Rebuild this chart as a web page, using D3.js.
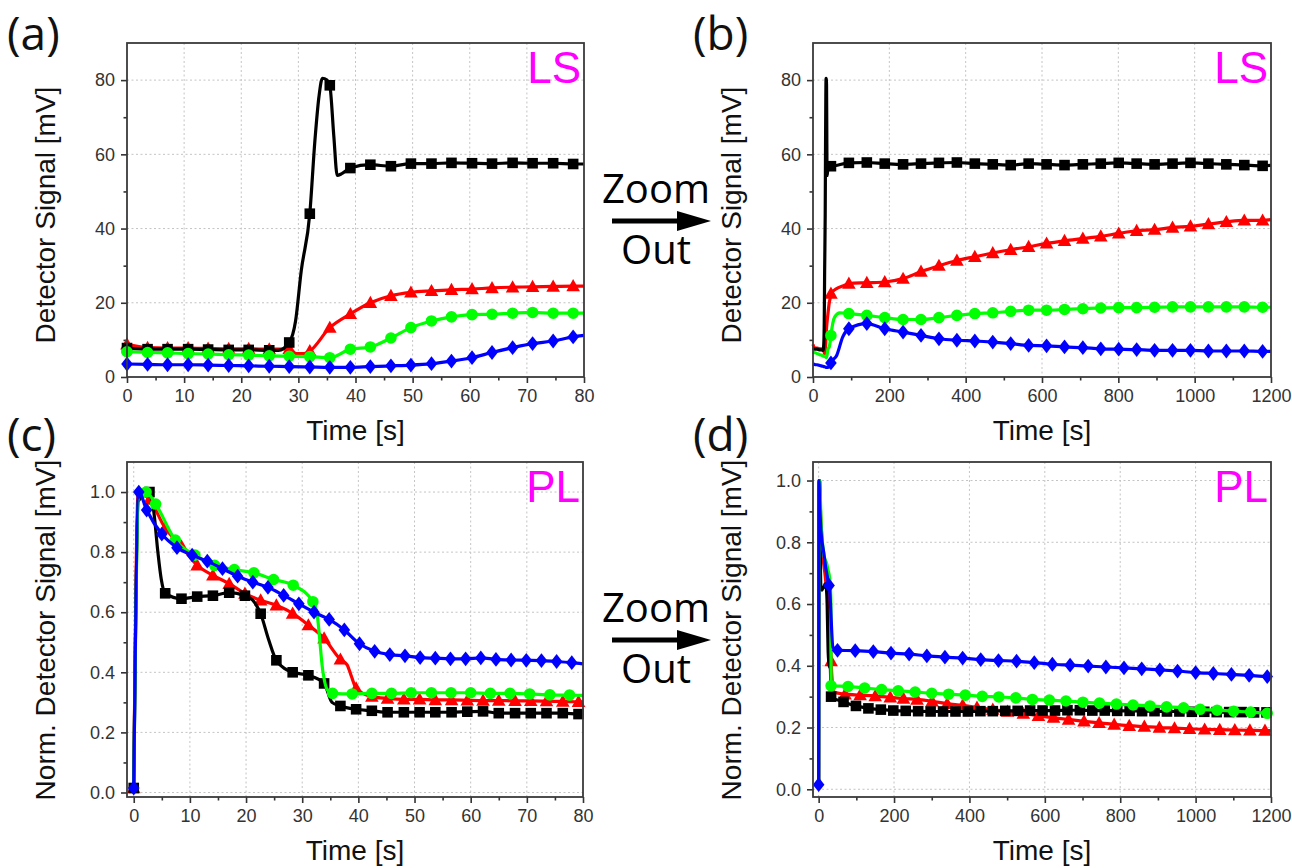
<!DOCTYPE html>
<html>
<head>
<meta charset="utf-8">
<script src="https://cdn.jsdelivr.net/npm/d3@7"></script>
<style>
body { margin: 0; background: #fff; }
svg { display: block; }
</style>
</head>
<body>
<svg id="chart" width="1292" height="868"></svg>
<script>
// ---- tick labels ----
const timeTicksShort = [0, 10, 20, 30, 40, 50, 60, 70, 80]
const timeTicksLong = [0, 200, 400, 600, 800, 1000, 1200]
const lsTicks = [0, 20, 40, 60, 80]
const plTicks = [0, 0.2, 0.4, 0.6, 0.8, 1.0]

// ---- (a) LS, 0-80 s : marker times shared by all four series ----
const lsShortTime = [0, 3.6, 7.1, 10.7, 14.2, 17.8, 21.3, 24.9, 28.4, 32.0, 35.5, 39.1, 42.6, 46.2, 49.7, 53.3, 56.8, 60.4, 63.9, 67.5, 71.0, 74.6, 78.1]
const lsShortBlack = [7.8, 7.5, 7.5, 7.5, 7.4, 7.3, 7.3, 7.2, 9.3, 44, 78.6, 56.3, 57.2, 56.8, 57.5, 57.5, 57.7, 57.6, 57.5, 57.7, 57.6, 57.6, 57.4]
const lsShortRed = [8.8, 7.9, 7.8, 7.8, 7.7, 7.6, 7.6, 7.5, 7.6, 7.0, 13.3, 17, 20, 21.9, 22.8, 23.2, 23.5, 23.7, 24.0, 24.2, 24.3, 24.4, 24.5]
const lsShortGreen = [6.8, 6.6, 6.5, 6.3, 6.2, 6.0, 5.9, 5.7, 5.6, 5.5, 5.2, 7.5, 8.1, 10.5, 13.3, 15.1, 16.2, 16.8, 16.9, 17.2, 17.4, 17.2, 17.2]
const lsShortBlue = [3.5, 3.4, 3.3, 3.3, 3.2, 3.1, 3.0, 2.9, 2.8, 2.7, 2.6, 2.6, 2.8, 3.0, 3.2, 3.6, 4.3, 5.2, 6.6, 7.9, 9.0, 9.7, 10.8]
// line vertices without a marker
const lsShortBlackLine = [[26.5, 7.2], [29.5, 15], [30.5, 28.6], [32.9, 63.8], [33.6, 75.5], [34.2, 80.5], [35.0, 80], [36.2, 65], [36.8, 54.3], [37.6, 54.8], [80, 57.4]]
const lsShortRedLine = [[29.6, 6.3], [31.0, 6.3], [80, 24.5]]
const lsShortGreenLine = [[80, 17.2]]
const lsShortBlueLine = [[80, 11.2]]

// ---- (b) LS, 0-1200 s ----
const lsLongTime = [47, 94, 141, 188, 236, 283, 330, 377, 424, 471, 518, 565, 612, 659, 707, 754, 801, 848, 895, 942, 989, 1036, 1083, 1130, 1178]
const lsLongBlack = [56.8, 57.7, 57.8, 57.5, 57.3, 57.5, 57.7, 57.8, 57.5, 57.3, 57.1, 57.5, 57.3, 57.1, 57.3, 57.5, 57.7, 57.5, 57.3, 57.5, 57.7, 57.5, 57.3, 57.1, 56.9]
const lsLongRed = [22.5, 25.2, 25.4, 25.6, 26.5, 28.4, 30.0, 31.4, 32.4, 33.4, 34.3, 35.1, 36.0, 36.7, 37.3, 37.9, 38.7, 39.4, 39.7, 40.3, 40.6, 41.2, 41.8, 42.2, 42.2]
const lsLongGreen = [11.2, 17.1, 16.6, 16.0, 15.5, 15.5, 16.0, 16.6, 17.1, 17.3, 17.7, 18.0, 18.0, 18.2, 18.4, 18.6, 18.7, 18.7, 18.8, 18.9, 18.9, 18.9, 18.9, 18.9, 18.8]
const lsLongBlue = [3.8, 13.0, 14.4, 13.0, 12.1, 11.2, 10.3, 9.9, 9.7, 9.4, 9.0, 8.5, 8.4, 8.1, 7.9, 7.6, 7.5, 7.4, 7.2, 7.2, 7.2, 7.0, 7.0, 7.0, 6.9]
const lsLongBlackLine = [[1200, 57.0]]
const lsLongRedLine = [[62, 23.8], [78, 24.5], [1200, 42.4]]
const lsLongGreenLine = [[57, 16.2], [70, 17.3], [1200, 18.8]]
const lsLongBlueLine = [[62, 5.8], [78, 10.8], [1200, 6.9]]

// ---- (c) PL, 0-80 s : [time, value] ----
const plShortBlack = [[0, 0.015], [2.8, 1.0], [5.6, 0.663], [8.5, 0.645], [11.3, 0.652], [14.1, 0.655], [17.0, 0.665], [19.8, 0.655], [22.6, 0.595], [25.4, 0.44], [28.3, 0.40], [31.1, 0.39], [33.9, 0.363], [36.8, 0.288], [39.6, 0.277], [42.4, 0.272], [45.2, 0.267], [48.1, 0.267], [50.9, 0.267], [53.7, 0.267], [56.6, 0.267], [59.4, 0.269], [62.2, 0.27], [65.0, 0.264], [67.9, 0.264], [70.7, 0.264], [73.5, 0.264], [76.4, 0.264], [79.2, 0.261]]
const plShortRed = [[0, 0.015], [2.8, 0.975], [5.6, 0.88], [8.5, 0.82], [11.3, 0.756], [14.1, 0.723], [17.0, 0.695], [19.8, 0.662], [22.6, 0.64], [25.4, 0.623], [28.3, 0.596], [31.1, 0.557], [33.9, 0.513], [36.8, 0.443], [39.6, 0.347], [42.4, 0.319], [45.2, 0.313], [48.1, 0.31], [50.9, 0.31], [53.7, 0.308], [56.6, 0.308], [59.4, 0.307], [62.2, 0.306], [65.0, 0.306], [67.9, 0.305], [70.7, 0.305], [73.5, 0.304], [76.4, 0.303], [79.2, 0.302]]
const plShortGreen = [[2.2, 1.0], [3.9, 0.96], [7.4, 0.84], [10.9, 0.79], [14.4, 0.756], [17.9, 0.742], [21.4, 0.731], [24.9, 0.709], [28.4, 0.69], [31.9, 0.635], [35.4, 0.33], [38.9, 0.328], [42.4, 0.33], [45.9, 0.33], [49.4, 0.332], [53.0, 0.332], [56.5, 0.332], [60.0, 0.332], [63.5, 0.33], [67.0, 0.33], [70.5, 0.328], [74.1, 0.325], [77.6, 0.324]]
const plShortBlue = [[0, 0.015], [0.9, 1.0], [2.3, 0.94], [5.0, 0.86], [7.7, 0.815], [10.4, 0.79], [13.1, 0.77], [15.8, 0.745], [18.5, 0.72], [21.2, 0.70], [23.9, 0.683], [26.7, 0.656], [29.4, 0.628], [32.1, 0.60], [34.8, 0.576], [37.5, 0.541], [40.2, 0.495], [42.9, 0.47], [45.6, 0.459], [48.3, 0.455], [51.0, 0.449], [53.7, 0.447], [56.4, 0.445], [59.1, 0.445], [61.8, 0.448], [64.5, 0.443], [67.2, 0.441], [69.9, 0.44], [72.6, 0.439], [75.3, 0.436], [78.0, 0.432]]
const plShortBlackLine = [[0.8, 0.97], [3.6, 0.93], [4.3, 0.8], [4.9, 0.71], [21.2, 0.64], [24.0, 0.51], [35.3, 0.30], [80, 0.261]]
const plShortRedLine = [[0.8, 1.0], [38.0, 0.425], [38.7, 0.39], [80, 0.302]]
const plShortGreenLine = [[0, 0.015], [0.9, 0.99], [32.6, 0.6], [33.7, 0.40], [34.5, 0.34], [80, 0.323]]
const plShortBlueLine = [[80, 0.428]]

// ---- (d) PL, 0-1200 s ----
const plLongBlack = [[33, 0.30], [66, 0.283], [99, 0.27], [132, 0.262], [165, 0.258], [198, 0.255], [231, 0.254], [264, 0.253], [297, 0.252], [330, 0.252], [363, 0.252], [396, 0.252], [429, 0.253], [462, 0.253], [495, 0.254], [528, 0.254], [561, 0.255], [594, 0.255], [627, 0.255], [660, 0.256], [693, 0.256], [726, 0.255], [759, 0.255], [792, 0.254], [825, 0.254], [858, 0.253], [891, 0.253], [924, 0.252], [957, 0.252], [990, 0.251], [1023, 0.251], [1056, 0.25], [1089, 0.25], [1122, 0.25], [1155, 0.249], [1188, 0.249]]
const plLongRed = [[33, 0.415], [70, 0.308], [110, 0.305], [150, 0.302], [190, 0.298], [225, 0.294], [261, 0.291], [301, 0.285], [341, 0.277], [382, 0.272], [420, 0.265], [462, 0.258], [501, 0.252], [543, 0.245], [583, 0.238], [623, 0.232], [663, 0.226], [704, 0.22], [744, 0.215], [784, 0.21], [824, 0.206], [864, 0.203], [904, 0.2], [944, 0.198], [984, 0.196], [1024, 0.194], [1064, 0.193], [1104, 0.192], [1144, 0.191], [1184, 0.19]]
const plLongGreen = [[33, 0.335], [78, 0.333], [122, 0.328], [167, 0.323], [211, 0.319], [256, 0.315], [300, 0.311], [345, 0.308], [389, 0.305], [434, 0.301], [478, 0.299], [523, 0.296], [567, 0.291], [612, 0.289], [656, 0.286], [701, 0.282], [745, 0.279], [790, 0.276], [834, 0.273], [879, 0.27], [923, 0.267], [968, 0.264], [1012, 0.259], [1057, 0.256], [1101, 0.253], [1146, 0.25], [1190, 0.246]]
const plLongBlue = [[0, 0.015], [27.6, 0.66], [50, 0.45], [97, 0.449], [145, 0.446], [192, 0.441], [240, 0.438], [287, 0.432], [335, 0.428], [382, 0.425], [430, 0.42], [477, 0.417], [525, 0.415], [572, 0.41], [620, 0.405], [667, 0.402], [715, 0.399], [762, 0.396], [810, 0.393], [857, 0.39], [905, 0.387], [952, 0.383], [1000, 0.378], [1047, 0.375], [1095, 0.372], [1142, 0.369], [1190, 0.365]]
const plLongBlackLine = [[1200, 0.249]]
const plLongRedLine = [[40, 0.315], [1200, 0.19]]
const plLongGreenLine = [[1200, 0.245]]
const plLongBlueLine = [[38, 0.46], [1200, 0.364]]


const svg = d3.select('#chart')
const tickFont = 'Liberation Sans, Arial, sans-serif'
const labelFont = 'Open Sans, sans-serif'

const colBlack = '#000000'
const colRed = '#ff0000'
const colGreen = '#00ff00'
const colBlue = '#0000ff'

const shapes = {
	square: 'M-5.3,-5.3h10.6v10.6h-10.6Z',
	triangle: 'M0,-7L6.8,5.2L-6.8,5.2Z',
	circle: d3.symbol(d3.symbolCircle, 105)(),
	diamond: 'M0,-7.4L5.8,0L0,7.4L-5.8,0Z'
}

const zip = (ts, vs) => ts.map((t, i) => [t, vs[i]])

// all line vertices: markers + plain vertices + (optionally) the short-time data before the first long-time marker
function linePoints(marks, extra, early) {
	let pts = marks.concat(extra)
	if (early) {
		const cut = d3.min(marks.filter(p => p[0] > 5), p => p[0])
		pts = pts.concat(early.filter(p => p[0] < cut))
	}
	pts.sort((a, b) => a[0] - b[0])
	return pts.filter((p, i) => i == 0 || p[0] !== pts[i - 1][0])
}

function drawPanel(p) {
	const g = svg.append('g')
	const x = d3.scaleLinear().domain(p.xDom).range([p.left, p.right])
	const y = d3.scaleLinear().domain(p.yDom).range([p.bottom, p.top])

	// grid
	g.selectAll('.vgrid')
		.data(p.xTicks.filter(t => x(t) > p.left + 2 && x(t) < p.right - 2))
		.join('line')
		.attr('x1', d => x(d)).attr('x2', d => x(d))
		.attr('y1', p.top).attr('y2', p.bottom)
		.attr('stroke', '#c4c4c4').attr('stroke-width', 1).attr('stroke-dasharray', '2,2.5')
	g.selectAll('.hgrid')
		.data(p.yTicks.filter(t => y(t) < p.bottom - 2 && y(t) > p.top + 2))
		.join('line')
		.attr('x1', p.left).attr('x2', p.right)
		.attr('y1', d => y(d)).attr('y2', d => y(d))
		.attr('stroke', '#c4c4c4').attr('stroke-width', 1).attr('stroke-dasharray', '2,2.5')

	// axes
	const xa = g.append('g').attr('transform', 'translate(0,' + p.bottom + ')')
		.call(d3.axisBottom(x).tickValues(p.xTicks).tickSize(6).tickPadding(6).tickFormat(p.xFmt))
	const xm = g.append('g').attr('transform', 'translate(0,' + p.bottom + ')')
		.call(d3.axisBottom(x).tickValues(p.xMinor).tickSize(3.5).tickFormat(''))
	const ya = g.append('g').attr('transform', 'translate(' + p.left + ',0)')
		.call(d3.axisLeft(y).tickValues(p.yTicks).tickSize(6).tickPadding(6).tickFormat(p.yFmt))
	const ym = g.append('g').attr('transform', 'translate(' + p.left + ',0)')
		.call(d3.axisLeft(y).tickValues(p.yMinor).tickSize(3.5).tickFormat(''))
	for (const a of [xa, xm, ya, ym]) {
		a.select('.domain').remove()
		a.selectAll('line').attr('stroke', '#333').attr('stroke-width', 1.6)
		a.selectAll('text').attr('font-family', tickFont).attr('font-size', 18).attr('fill', '#333')
	}

	// series
	for (const s of p.series) {
		g.append('path')
			.datum(s.line)
			.attr('fill', 'none')
			.attr('stroke', s.color)
			.attr('stroke-width', 3.2)
			.attr('stroke-linejoin', 'round')
			.attr('d', d3.line().curve(d3.curveMonotoneX)
				.x(d => x(d[0]))
				.y(d => y(d[1])))
		g.selectAll(null)
			.data(s.marks)
			.join('path')
			.attr('transform', d => 'translate(' + x(d[0]) + ',' + y(d[1]) + ')')
			.attr('d', shapes[s.shape])
			.attr('fill', s.color)
	}

	// frame
	g.append('rect')
		.attr('x', p.left).attr('y', p.top)
		.attr('width', p.right - p.left).attr('height', p.bottom - p.top)
		.attr('fill', 'none').attr('stroke', '#3a3a3a').attr('stroke-width', 1.8)

	// texts
	g.append('text')
		.attr('x', p.right - 3).attr('y', p.top + 40)
		.attr('text-anchor', 'end')
		.attr('font-family', tickFont).attr('font-size', 44)
		.attr('fill', '#ff00ff')
		.text(p.tag)
	g.append('text')
		.attr('x', (p.left + p.right) / 2).attr('y', p.bottom + 63)
		.attr('text-anchor', 'middle')
		.attr('font-family', tickFont).attr('font-size', 28).attr('fill', '#111')
		.text('Time [s]')
	g.append('text')
		.attr('transform', 'translate(' + (p.left - 72) + ',' + p.titleY + ') rotate(-90)')
		.attr('text-anchor', 'middle')
		.attr('font-family', tickFont).attr('font-size', 28).attr('fill', '#111')
		.text(p.yTitle)
	g.append('text')
		.attr('x', p.left - 120).attr('y', p.labelY)
		.attr('font-family', labelFont).attr('font-size', 46).attr('fill', '#111')
		.text(p.label)
}

const range = (a, b, s) => d3.range(a, b + s / 2, s)

drawPanel({
	label: '(a)', labelY: 50, tag: 'LS', yTitle: 'Detector Signal [mV]', titleY: 215,
	left: 127, right: 584, top: 43, bottom: 377,
	xDom: [0, 80], yDom: [0, 90],
	xTicks: timeTicksShort, xMinor: range(5, 75, 10), yTicks: lsTicks, yMinor: range(10, 70, 20),
	xFmt: d3.format('d'), yFmt: d3.format('d'),
	series: [
		{color: colRed, shape: 'triangle', marks: zip(lsShortTime, lsShortRed), line: linePoints(zip(lsShortTime, lsShortRed), lsShortRedLine)},
		{color: colBlack, shape: 'square', marks: zip(lsShortTime, lsShortBlack), line: linePoints(zip(lsShortTime, lsShortBlack), lsShortBlackLine)},
		{color: colGreen, shape: 'circle', marks: zip(lsShortTime, lsShortGreen), line: linePoints(zip(lsShortTime, lsShortGreen), lsShortGreenLine)},
		{color: colBlue, shape: 'diamond', marks: zip(lsShortTime, lsShortBlue), line: linePoints(zip(lsShortTime, lsShortBlue), lsShortBlueLine)}
	]
})

drawPanel({
	label: '(b)', labelY: 50, tag: 'LS', yTitle: 'Detector Signal [mV]', titleY: 215,
	left: 813, right: 1271, top: 43, bottom: 377,
	xDom: [0, 1200], yDom: [0, 90],
	xTicks: timeTicksLong, xMinor: range(100, 1100, 200), yTicks: lsTicks, yMinor: range(10, 70, 20),
	xFmt: d3.format('d'), yFmt: d3.format('d'),
	series: [
		{color: colRed, shape: 'triangle', marks: zip(lsLongTime, lsLongRed),
			line: linePoints(zip(lsLongTime, lsLongRed), lsLongRedLine, zip(lsShortTime, lsShortRed).concat(lsShortRedLine))},
		{color: colBlack, shape: 'square', marks: zip(lsLongTime, lsLongBlack),
			line: linePoints(zip(lsLongTime, lsLongBlack), lsLongBlackLine, zip(lsShortTime, lsShortBlack).concat(lsShortBlackLine))},
		{color: colGreen, shape: 'circle', marks: zip(lsLongTime, lsLongGreen),
			line: linePoints(zip(lsLongTime, lsLongGreen), lsLongGreenLine, zip(lsShortTime, lsShortGreen).concat(lsShortGreenLine))},
		{color: colBlue, shape: 'diamond', marks: zip(lsLongTime, lsLongBlue),
			line: linePoints(zip(lsLongTime, lsLongBlue), lsLongBlueLine, zip(lsShortTime, lsShortBlue).concat(lsShortBlueLine))}
	]
})

drawPanel({
	label: '(c)', labelY: 451, tag: 'PL', yTitle: 'Norm. Detector Signal [mV]', titleY: 630,
	left: 127, right: 583, top: 462, bottom: 797,
	xDom: [-1.2, 80], yDom: [-0.015, 1.1],
	xTicks: timeTicksShort, xMinor: range(5, 75, 10), yTicks: plTicks, yMinor: range(0.1, 0.9, 0.2),
	xFmt: d3.format('d'), yFmt: d3.format('.1f'),
	series: [
		{color: colRed, shape: 'triangle', marks: plShortRed, line: linePoints(plShortRed, plShortRedLine)},
		{color: colBlack, shape: 'square', marks: plShortBlack, line: linePoints(plShortBlack, plShortBlackLine)},
		{color: colGreen, shape: 'circle', marks: plShortGreen, line: linePoints(plShortGreen, plShortGreenLine)},
		{color: colBlue, shape: 'diamond', marks: plShortBlue, line: linePoints(plShortBlue, plShortBlueLine)}
	]
})

drawPanel({
	label: '(d)', labelY: 451, tag: 'PL', yTitle: 'Norm. Detector Signal [mV]', titleY: 630,
	left: 813, right: 1271, top: 462, bottom: 797,
	xDom: [-15, 1200], yDom: [-0.025, 1.06],
	xTicks: timeTicksLong, xMinor: range(100, 1100, 200), yTicks: plTicks, yMinor: range(0.1, 0.9, 0.2),
	xFmt: d3.format('d'), yFmt: d3.format('.1f'),
	series: [
		{color: colRed, shape: 'triangle', marks: plLongRed, line: linePoints(plLongRed, plLongRedLine, plShortRed.concat(plShortRedLine))},
		{color: colBlack, shape: 'square', marks: plLongBlack, line: linePoints(plLongBlack, plLongBlackLine, plShortBlack.concat(plShortBlackLine))},
		{color: colGreen, shape: 'circle', marks: plLongGreen, line: linePoints(plLongGreen, plLongGreenLine, plShortGreen.concat(plShortGreenLine))},
		{color: colBlue, shape: 'diamond', marks: plLongBlue, line: linePoints(plLongBlue, plLongBlueLine, plShortBlue.concat(plShortBlueLine))}
	]
})

// "Zoom Out" arrows between the columns
for (const dy of [0, 419]) {
	svg.append('text')
		.attr('x', 656).attr('y', 203 + dy)
		.attr('text-anchor', 'middle')
		.attr('font-family', labelFont).attr('font-size', 40).attr('fill', '#000')
		.text('Zoom')
	svg.append('text')
		.attr('x', 656).attr('y', 264 + dy)
		.attr('text-anchor', 'middle')
		.attr('font-family', labelFont).attr('font-size', 40).attr('fill', '#000')
		.text('Out')
	svg.append('line')
		.attr('x1', 612).attr('x2', 684)
		.attr('y1', 221 + dy).attr('y2', 221 + dy)
		.attr('stroke', '#000').attr('stroke-width', 5)
	svg.append('path')
		.attr('d', 'M677,' + (211 + dy) + 'L711,' + (221 + dy) + 'L677,' + (231 + dy) + 'Z')
		.attr('fill', '#000')
}
</script>
</body>
</html>
